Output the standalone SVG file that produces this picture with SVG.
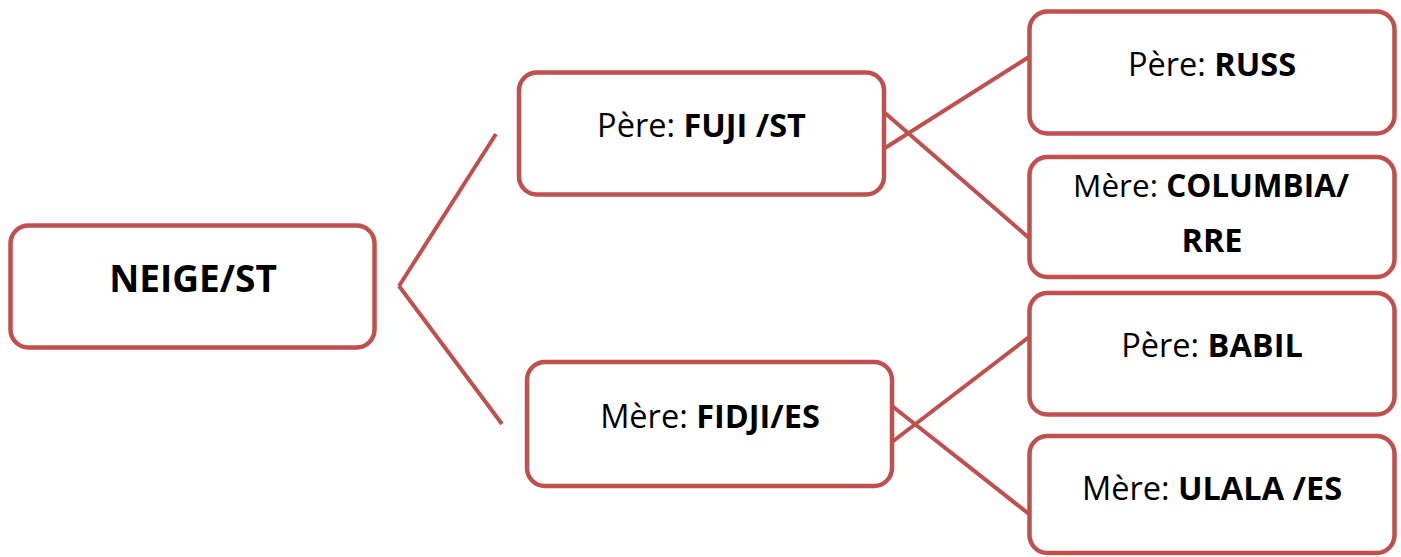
<svg xmlns="http://www.w3.org/2000/svg" width="1401" height="557" viewBox="0 0 1401 557">
<style>
.box{fill:#fff;stroke:#C0504D;stroke-width:4.5}
.ln{stroke:#C0504D;stroke-width:4;fill:none}
text{font-family:"Open Sans","Liberation Sans",sans-serif;font-size:32.5px;fill:#000;text-anchor:middle}
.b{font-weight:bold}
.big{font-size:37px;font-weight:bold}
</style>
<rect width="1401" height="557" fill="#fff"/>
<g id="connectors">
<line class="ln" x1="496" y1="134" x2="399" y2="286"/>
<line class="ln" x1="399" y1="286" x2="502" y2="424"/>
<line class="ln" x1="885" y1="148" x2="1029" y2="57"/>
<line class="ln" x1="885" y1="113" x2="1029" y2="238"/>
<line class="ln" x1="892" y1="442" x2="1029" y2="337"/>
<line class="ln" x1="892" y1="406" x2="1029" y2="514"/>
</g>
<g id="neige">
<rect class="box" x="10.5" y="225.5" width="364" height="122" rx="18"/>
<text class="big" x="193" y="292">NEIGE/ST</text>
</g>
<g id="fuji">
<rect class="box" x="519" y="72.5" width="365" height="122" rx="18"/>
<text x="701.5" y="137">Père: <tspan class="b">FUJI /ST</tspan></text>
</g>
<g id="fidji">
<rect class="box" x="527" y="362" width="365" height="124" rx="18"/>
<text x="710" y="428">Mère: <tspan class="b">FIDJI/ES</tspan></text>
</g>
<g id="russ">
<rect class="box" x="1029.5" y="11.5" width="365" height="122" rx="18"/>
<text x="1212" y="76">Père: <tspan class="b">RUSS</tspan></text>
</g>
<g id="columbia">
<rect class="box" x="1029.5" y="157" width="365" height="120" rx="18"/>
<text x="1211" y="197" style="font-size:31.5px">Mère: <tspan class="b">COLUMBIA/</tspan></text>
<text class="b" x="1212" y="252">RRE</text>
</g>
<g id="babil">
<rect class="box" x="1029.5" y="293" width="365" height="121.5" rx="18"/>
<text x="1212" y="357">Père: <tspan class="b">BABIL</tspan></text>
</g>
<g id="ulala">
<rect class="box" x="1029.5" y="436" width="365" height="117" rx="18"/>
<text x="1212" y="500">Mère: <tspan class="b">ULALA /ES</tspan></text>
</g>
</svg>
